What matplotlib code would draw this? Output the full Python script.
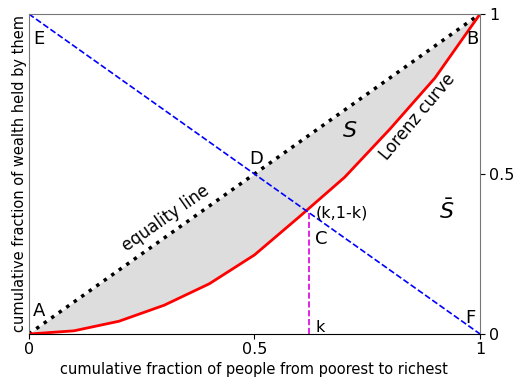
import matplotlib
matplotlib.use('Agg')
import matplotlib.pyplot as plt
import numpy as np

# Lorenz curve
people = [0.0, 0.1, 0.2, 0.3, 0.4, 0.5, 0.6, 0.7, 0.8, 0.9, 1.0]
wealth = [0.0, 0.01, 0.04, 0.09, 0.157, 0.247, 0.367, 0.49, 0.64, 0.80, 1.0]
k = 0.62
tick_pos = [0, 0.5, 1]
tick_labels = ['0', '0.5', '1']

fig = plt.figure(figsize=(5.14, 3.77), dpi=100)
ax = fig.add_axes([0.056, 0.114, 0.878, 0.849])

ax.fill_between(people, people, wealth, color='#dddddd', lw=0)
ax.plot([0, 1], [0, 1], color='black', ls=':', lw=2.5)
ax.plot(people, wealth, color='red', lw=2)
ax.plot([0, 1], [1, 0], color='blue', ls='--', lw=1.2)
ax.plot([k, k], [0, 1 - k], color='#dd00dd', ls='--', lw=1.2)

ax.set_xlim(0, 1)
ax.set_ylim(0, 1)
ax.set_xticks(tick_pos)
ax.set_xticklabels(tick_labels, fontsize=11.5)
ax.yaxis.tick_right()
ax.set_yticks(tick_pos)
ax.set_yticklabels(tick_labels, fontsize=11.5)
ax.tick_params(axis='x', pad=2)
ax.tick_params(axis='y', pad=3)
ax.set_xlabel('cumulative fraction of people from poorest to richest', fontsize=10.5, labelpad=4)
ax.set_ylabel('cumulative fraction of wealth held by them', fontsize=10.5, labelpad=1)
ax.yaxis.set_label_position('left')
for side in ['left', 'top', 'right']:
    ax.spines[side].set_color('#777777')

fs = 13
ax.text(0.01, 0.055, 'A', fontsize=fs)
ax.text(0.01, 0.905, 'E', fontsize=fs)
ax.text(0.489, 0.53, 'D', fontsize=fs)
ax.text(0.97, 0.905, 'B', fontsize=fs)
ax.text(0.968, 0.035, 'F', fontsize=fs)
ax.text(0.635, 0.28, 'C', fontsize=fs)
ax.text(0.636, 0.365, '(k,1-k)', fontsize=11.5)
ax.text(0.635, 0.005, 'k', fontsize=11.5)
ax.text(0.695, 0.615, '$S$', fontsize=16)
ax.text(0.91, 0.36, r'$\bar{S}$', fontsize=16)
ax.text(0.2, 0.26, 'equality line', fontsize=12, rotation=35)
ax.text(0.77, 0.545, 'Lorenz curve', fontsize=12, rotation=50)

fig.savefig('out.png', dpi=100)
